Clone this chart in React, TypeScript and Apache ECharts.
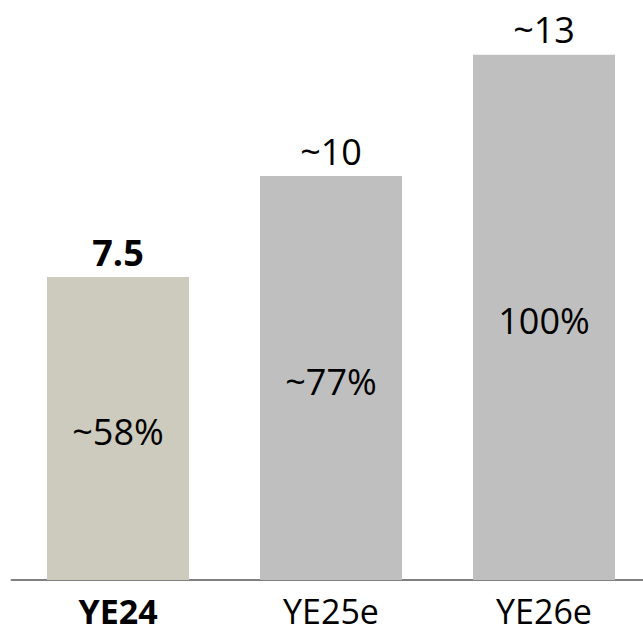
import React, { useEffect, useRef } from "react";
import * as echarts from "echarts";

const categories = ["YE24", "YE25e", "YE26e"];
const values = [7.5, 10, 13];
const topLabels = ["7.5", "~10", "~13"];
const insideLabels = ["~58%", "~77%", "100%"];
const barColors = ["#cccbbd", "#bfbfbf", "#bfbfbf"];
const highlightIndex = 0;

const FONT = "'Open Sans', 'Noto Sans', sans-serif";
const FS = 36;
const AXIS_FS = 34;

export default function App() {
  const ref = useRef<HTMLDivElement>(null);
  useEffect(() => {
    if (!ref.current) return;
    const chart = echarts.init(ref.current, undefined, { renderer: "svg" });
    chart.setOption({
      animation: false,
      grid: { left: 11.5, top: 14.4, width: 639, height: 565.6, containLabel: false },
      xAxis: {
        type: "category",
        data: categories,
        axisLine: { show: true, lineStyle: { color: "#808080", width: 2 } },
        axisTick: { show: false },
        axisLabel: {
          interval: 0,
          hideOverlap: false,
          margin: 16,
          fontFamily: FONT,
          fontSize: AXIS_FS,
          lineHeight: 30,
          color: "#000",
          formatter: (v: string, i: number) => (i === highlightIndex ? `{b|${v}}` : `{n|${v}}`),
          rich: {
            b: { fontFamily: FONT, fontSize: AXIS_FS, lineHeight: 30, fontWeight: "bold", color: "#000" },
            n: { fontFamily: FONT, fontSize: AXIS_FS, lineHeight: 30, fontWeight: "normal", color: "#000" },
          },
        },
      },
      yAxis: {
        type: "value",
        min: 0,
        max: 14,
        show: false,
        splitLine: { show: false },
      },
      series: [
        {
          type: "bar",
          barWidth: 142,
          data: values.map((v, i) => ({ value: v, itemStyle: { color: barColors[i] } })),
          label: {
            show: true,
            position: "inside",
            offset: [0, 3],
            fontFamily: FONT,
            fontSize: FS,
            color: "#000",
            formatter: (p: any) => insideLabels[p.dataIndex],
          },
          z: 2,
        },
        {
          type: "bar",
          barWidth: 142,
          barGap: "-100%",
          data: values.map((v) => ({ value: v, itemStyle: { color: "transparent" } })),
          label: {
            show: true,
            position: "top",
            distance: 7,
            fontFamily: FONT,
            fontSize: FS,
            color: "#000",
            formatter: (p: any) =>
              p.dataIndex === highlightIndex
                ? `{b|${topLabels[p.dataIndex]}}`
                : `{n|${topLabels[p.dataIndex]}}`,
            rich: {
              b: { fontFamily: FONT, fontSize: FS, fontWeight: "bold", color: "#000" },
              n: { fontFamily: FONT, fontSize: FS, fontWeight: "normal", color: "#000" },
            },
          },
          silent: true,
          z: 3,
        },
      ],
    });
    return () => chart.dispose();
  }, []);
  return (
    <div
      style={{ position: "fixed", left: 0, top: 0, width: 643, height: 633, overflow: "hidden", background: "#fff" }}
    >
      <div ref={ref} style={{ width: 660, height: 633 }} />
    </div>
  );
}
